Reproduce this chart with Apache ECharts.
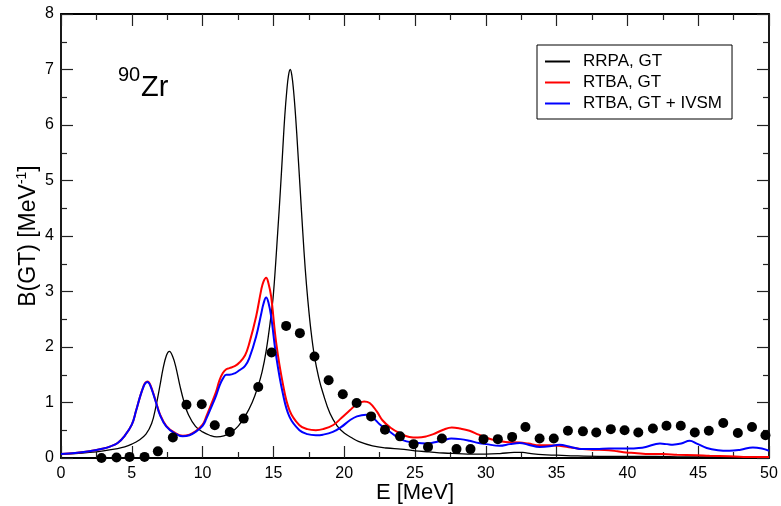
<!DOCTYPE html>
<html>
<head>
<meta charset="utf-8">
<title>90Zr Gamow-Teller strength</title>
<script src="https://cdn.jsdelivr.net/npm/echarts@6/dist/echarts.min.js"></script>
<style>
  html, body { margin: 0; padding: 0; background: #fff; }
  #chart { width: 781px; height: 506px; }
</style>
</head>
<body>
<div id="chart"></div>
<script>
// Energy axis ticks
const xTicks = [0, 5, 10, 15, 20, 25, 30, 35, 40, 45, 50];
const yTicks = [0, 1, 2, 3, 4, 5, 6, 7, 8];

// RRPA, GT
const rrpaE = [0, 1, 2, 3, 4, 4.5, 5, 5.5, 6, 6.4, 6.72, 7, 7.2, 7.45, 7.66, 7.9, 8.1, 8.4, 8.7, 9.0, 9.5, 10, 10.5, 11, 11.5, 12, 12.5, 13, 13.5, 13.9, 14.2, 14.5, 14.8, 15.0, 15.3, 15.5, 15.66, 15.8, 15.95, 16.07, 16.19, 16.3, 16.42, 16.57, 16.72, 16.9, 17.08, 17.25, 17.43, 17.65, 17.9, 18.2, 18.5, 19, 19.5, 20, 20.5, 21, 22, 23, 24, 25, 26, 27, 28, 29, 30, 31, 32, 32.6, 33.2, 34, 35, 36, 38, 40, 42, 44, 46, 48, 50];
const rrpaB = [0.07, 0.08, 0.10, 0.13, 0.17, 0.20, 0.25, 0.32, 0.43, 0.62, 0.95, 1.32, 1.60, 1.85, 1.92, 1.82, 1.65, 1.30, 1.00, 0.78, 0.57, 0.47, 0.41, 0.38, 0.40, 0.46, 0.57, 0.75, 1.00, 1.28, 1.55, 1.95, 2.50, 2.95, 4.05, 4.85, 5.55, 6.15, 6.63, 6.90, 7.00, 6.90, 6.63, 6.15, 5.55, 4.80, 4.05, 3.40, 2.85, 2.30, 1.83, 1.45, 1.17, 0.80, 0.58, 0.45, 0.37, 0.30, 0.22, 0.18, 0.16, 0.13, 0.11, 0.09, 0.08, 0.07, 0.07, 0.08, 0.10, 0.10, 0.08, 0.06, 0.05, 0.04, 0.03, 0.03, 0.03, 0.02, 0.02, 0.01, 0.01];

// RTBA, GT
const rtbaE = [0, 1, 2, 3, 3.5, 4, 4.5, 5, 5.3, 5.6, 5.85, 5.95, 6.09, 6.2, 6.3, 6.5, 6.72, 7, 7.43, 8, 8.6, 9.07, 9.5, 10, 10.25, 10.72, 10.96, 11.19, 11.43, 11.67, 11.9, 12.3, 12.6, 13, 13.3, 13.78, 14.14, 14.3, 14.49, 14.65, 14.84, 15.2, 15.66, 16.14, 16.84, 17.4, 18, 18.5, 19.2, 19.8, 20.4, 20.9, 21.4, 21.8, 22.3, 22.7, 23.3, 23.9, 24.6, 25.2, 25.8, 26.3, 27, 27.6, 28.2, 28.85, 29.5, 30, 30.5, 31.4, 32.4, 33, 33.8, 34.5, 35.2, 36, 36.85, 37.5, 38.7, 39.3, 39.9, 40.5, 41.6, 42.5, 43.5, 44.9, 45.8, 47.2, 48.2, 50];
const rtbaB = [0.07, 0.09, 0.12, 0.17, 0.21, 0.27, 0.40, 0.60, 0.85, 1.12, 1.31, 1.355, 1.38, 1.365, 1.32, 1.18, 1.00, 0.78, 0.58, 0.46, 0.40, 0.42, 0.48, 0.60, 0.74, 1.04, 1.20, 1.40, 1.53, 1.60, 1.62, 1.66, 1.72, 1.85, 2.07, 2.55, 3.03, 3.18, 3.25, 3.15, 2.91, 2.07, 1.35, 0.86, 0.59, 0.52, 0.50, 0.52, 0.59, 0.72, 0.86, 0.97, 1.02, 0.99, 0.84, 0.68, 0.54, 0.45, 0.38, 0.37, 0.39, 0.43, 0.51, 0.55, 0.53, 0.49, 0.42, 0.37, 0.33, 0.29, 0.28, 0.26, 0.23, 0.23, 0.22, 0.19, 0.16, 0.15, 0.14, 0.12, 0.10, 0.09, 0.07, 0.07, 0.06, 0.05, 0.04, 0.03, 0.02, 0.02];

// RTBA, GT + IVSM
const ivsmE = [0, 1, 2, 3, 3.5, 4, 4.5, 5, 5.3, 5.6, 5.85, 5.95, 6.09, 6.2, 6.3, 6.5, 6.72, 7, 7.43, 8, 8.6, 9.07, 9.5, 10, 10.25, 10.72, 10.96, 11.19, 11.43, 11.67, 11.9, 12.3, 12.6, 13, 13.3, 13.78, 14.14, 14.3, 14.49, 14.65, 14.84, 15.2, 15.66, 16.14, 16.84, 17.4, 18, 18.5, 19.2, 19.8, 20.4, 20.9, 21.55, 22, 22.5, 22.97, 23.5, 23.9, 24.4, 24.85, 25.8, 26.3, 27, 27.56, 28.2, 28.85, 29.5, 30.03, 30.97, 31.7, 32.4, 33, 33.8, 34.5, 35.2, 36, 36.85, 37.8, 38.7, 39.5, 40.15, 40.8, 41.3, 42.3, 42.8, 43.2, 43.8, 44.4, 44.9, 45.6, 46.4, 47.2, 48, 48.86, 49.5, 50];
const ivsmB = [0.07, 0.09, 0.12, 0.17, 0.21, 0.27, 0.40, 0.60, 0.85, 1.12, 1.30, 1.345, 1.37, 1.355, 1.31, 1.17, 0.99, 0.77, 0.57, 0.45, 0.39, 0.41, 0.47, 0.58, 0.70, 0.98, 1.13, 1.30, 1.43, 1.50, 1.50, 1.53, 1.58, 1.66, 1.80, 2.19, 2.60, 2.78, 2.89, 2.80, 2.55, 1.83, 1.17, 0.74, 0.50, 0.43, 0.41, 0.42, 0.47, 0.56, 0.68, 0.75, 0.78, 0.73, 0.61, 0.52, 0.42, 0.35, 0.30, 0.28, 0.26, 0.28, 0.32, 0.35, 0.34, 0.31, 0.27, 0.25, 0.22, 0.25, 0.27, 0.24, 0.20, 0.21, 0.24, 0.20, 0.16, 0.16, 0.17, 0.17, 0.17, 0.18, 0.20, 0.26, 0.25, 0.24, 0.26, 0.31, 0.26, 0.18, 0.14, 0.13, 0.15, 0.19, 0.17, 0.13];

// Experimental B(GT) per energy bin
const expE = [2.86, 3.92, 4.84, 5.9, 6.84, 7.9, 8.86, 9.94, 10.86, 11.92, 12.9, 13.93, 14.87, 15.9, 16.87, 17.9, 18.9, 19.9, 20.88, 21.9, 22.88, 23.94, 24.9, 25.92, 26.9, 27.93, 28.92, 29.84, 30.85, 31.86, 32.8, 33.8, 34.8, 35.8, 36.86, 37.8, 38.83, 39.8, 40.77, 41.8, 42.76, 43.77, 44.76, 45.75, 46.77, 47.8, 48.8, 49.75];
const expB = [0.0, 0.01, 0.02, 0.02, 0.12, 0.37, 0.96, 0.97, 0.59, 0.47, 0.71, 1.28, 1.90, 2.38, 2.25, 1.83, 1.40, 1.15, 0.99, 0.75, 0.51, 0.39, 0.25, 0.20, 0.35, 0.16, 0.16, 0.34, 0.34, 0.38, 0.56, 0.35, 0.35, 0.49, 0.48, 0.46, 0.52, 0.50, 0.46, 0.53, 0.58, 0.58, 0.46, 0.49, 0.63, 0.45, 0.56, 0.41];

const pairs = (xs, ys) => xs.map((x, i) => [x, ys[i]]);

const FONT = 'Liberation Sans, Arial, Helvetica, sans-serif';
const frame = { show: true, onZero: false, lineStyle: { color: '#000', width: 1.8 } };
const tickIn = { show: true, inside: true, length: 12, lineStyle: { color: '#222', width: 1.2 } };
const minorIn = { show: true, splitNumber: 2, length: 6, lineStyle: { color: '#222', width: 1.2 } };

const chart = echarts.init(document.getElementById('chart'), null, { renderer: 'canvas' });

chart.setOption({
  animation: false,
  backgroundColor: '#fff',
  grid: { left: 61, right: 12, top: 14, bottom: 48, containLabel: false, outerBoundsMode: 'none' },
  legend: {
    data: ['RRPA, GT', 'RTBA, GT', 'RTBA, GT + IVSM'],
    orient: 'vertical',
    left: 537,
    top: 45,
    icon: 'rect',
    itemWidth: 25,
    itemHeight: 2,
    itemGap: 4,
    padding: [8, 10, 7, 8],
    borderColor: '#000',
    borderWidth: 1,
    borderRadius: 0,
    backgroundColor: '#fff',
    textStyle: { fontFamily: FONT, fontSize: 17, color: '#000', padding: [0, 0, 0, 8] }
  },
  xAxis: [
    {
      type: 'value', min: 0, max: 50, interval: 5, position: 'bottom',
      axisLine: frame, axisTick: tickIn, minorTick: minorIn,
      splitLine: { show: false },
      axisLabel: {
        fontFamily: FONT, fontSize: 16, color: '#000', margin: 8,
        customValues: xTicks, formatter: v => String(v)
      },
      name: 'E [MeV]', nameLocation: 'middle', nameGap: 24, nameMoveOverlap: false,
      nameTextStyle: { fontFamily: FONT, fontSize: 22, color: '#000' }
    },
    {
      type: 'value', min: 0, max: 50, interval: 5, position: 'top',
      axisLine: frame, axisTick: tickIn, minorTick: minorIn,
      splitLine: { show: false }, axisLabel: { show: false }
    }
  ],
  yAxis: [
    {
      type: 'value', min: 0, max: 8, interval: 1, position: 'left',
      axisLine: frame, axisTick: tickIn, minorTick: minorIn,
      splitLine: { show: false },
      axisLabel: {
        fontFamily: FONT, fontSize: 16, color: '#000', margin: 7,
        customValues: yTicks, formatter: v => String(v)
      },
      name: '{a|B(GT) [MeV}{s|-1}{a|]}',
      nameLocation: 'middle', nameGap: 18, nameRotate: 90, nameMoveOverlap: false,
      nameTextStyle: {
        fontFamily: FONT, color: '#000',
        rich: {
          a: { fontFamily: FONT, fontSize: 23, color: '#000', lineHeight: 28 },
          s: { fontFamily: FONT, fontSize: 14, color: '#000', lineHeight: 28, verticalAlign: 'top', padding: [0, 0, 11, 0] }
        }
      }
    },
    {
      type: 'value', min: 0, max: 8, interval: 1, position: 'right',
      axisLine: frame, axisTick: tickIn, minorTick: minorIn,
      splitLine: { show: false }, axisLabel: { show: false }
    }
  ],
  graphic: [
    { type: 'text', left: 118, top: 65, style: { text: '90', font: '20px ' + FONT, fill: '#000' }, z: 10 },
    { type: 'text', left: 141, top: 73, style: { text: 'Zr', font: '29px ' + FONT, fill: '#000' }, z: 10 }
  ],
  series: [
    {
      name: 'Experiment', type: 'scatter', data: pairs(expE, expB),
      symbol: 'circle', symbolSize: 10, itemStyle: { color: '#000', opacity: 1 }, z: 5, clip: false
    },
    {
      name: 'RRPA, GT', type: 'line', data: pairs(rrpaE, rrpaB),
      showSymbol: false, smooth: 0.4,
      lineStyle: { color: '#000', width: 1.3 }, itemStyle: { color: '#000' }, z: 3
    },
    {
      name: 'RTBA, GT', type: 'line', data: pairs(rtbaE, rtbaB),
      showSymbol: false, smooth: 0.4,
      lineStyle: { color: '#ff0000', width: 2 }, itemStyle: { color: '#ff0000' }, z: 3
    },
    {
      name: 'RTBA, GT + IVSM', type: 'line', data: pairs(ivsmE, ivsmB),
      showSymbol: false, smooth: 0.4,
      lineStyle: { color: '#0000ff', width: 2 }, itemStyle: { color: '#0000ff' }, z: 4
    }
  ]
});
</script>
</body>
</html>
